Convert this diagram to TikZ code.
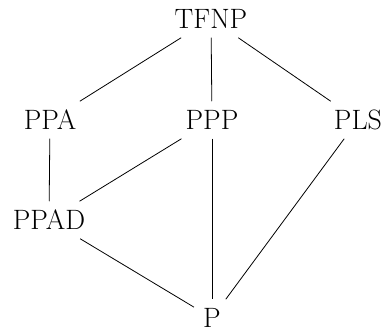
\documentclass[tikz,border=0pt]{standalone}
\begin{document}
\begin{tikzpicture}[x=1pt, y=-1pt,
  cls/.style={font=\fontsize{28}{34}\selectfont, text height=19.1pt, text depth=0pt, inner sep=9pt},
  link/.style={line width=0.8pt}]
  \useasboundingbox (0,0) rectangle (384,331);
  % complexity classes
  \node[cls] (tfnp) at (211,19) {TFNP};
  \node[cls] (ppa)  at (50,120) {PPA};
  \node[cls] (ppp)  at (212,120) {PPP};
  \node[cls] (pls)  at (358,120) {PLS};
  \node[cls] (ppad) at (49,220) {PPAD};
  \node[cls] (p)    at (212,318) {P};
  % inclusions
  \draw[link] (tfnp) -- (ppa);
  \draw[link] (tfnp) -- (ppp);
  \draw[link] (tfnp) -- (pls);
  \draw[link] (ppa) -- (ppad);
  \draw[link] (ppp) -- (ppad);
  \draw[link] (ppp) -- (p);
  \draw[link] (pls) -- (p);
  \draw[link] (ppad) -- (p);
\end{tikzpicture}
\end{document}
